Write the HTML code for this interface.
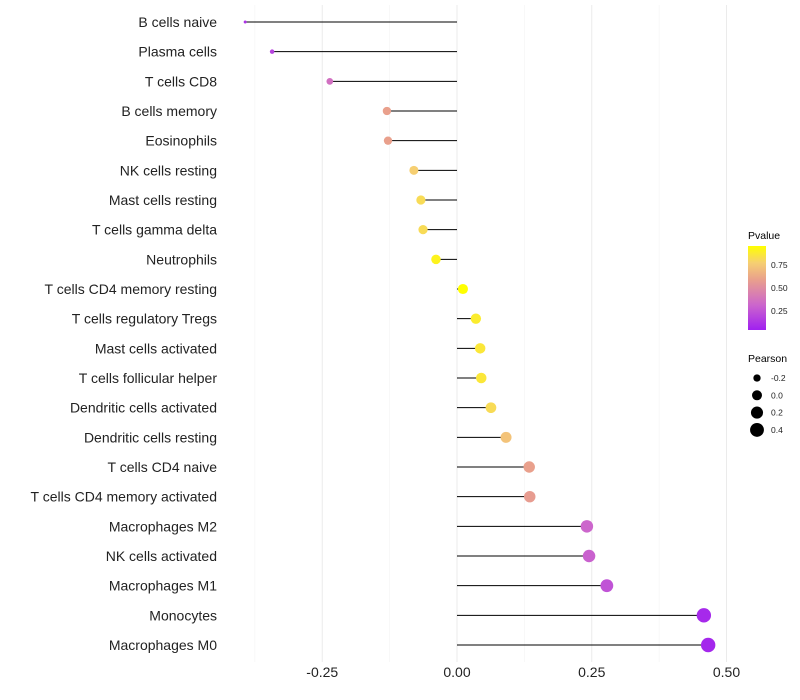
<!DOCTYPE html>
<html><head><meta charset="utf-8"><style>
body{margin:0;background:#fff}
svg{display:block;font-family:"Liberation Sans",sans-serif}
</style></head><body>
<svg id="c" width="800" height="700">
<defs><linearGradient id="pg" x1="0" y1="1" x2="0" y2="0">
<stop offset="0" stop-color="#a020f0"/><stop offset="0.3" stop-color="#cc66cc"/>
<stop offset="0.6" stop-color="#e9a08c"/><stop offset="0.8" stop-color="#f6cf72"/>
<stop offset="1" stop-color="#ffff00"/></linearGradient></defs>
<g id="grid"></g><g id="marks"></g><g id="labels"></g>
<g id="legend"></g>
</svg>
<script>
const categories=["B cells naive","Plasma cells","T cells CD8","B cells memory","Eosinophils","NK cells resting","Mast cells resting","T cells gamma delta","Neutrophils","T cells CD4 memory resting","T cells regulatory  Tregs ","Mast cells activated","T cells follicular helper","Dendritic cells activated","Dendritic cells resting","T cells CD4 naive","T cells CD4 memory activated","Macrophages M2","NK cells activated","Macrophages M1","Monocytes","Macrophages M0"];
const pearson=[-0.393,-0.343,-0.236,-0.130,-0.128,-0.080,-0.067,-0.063,-0.039,0.011,0.035,0.043,0.045,0.063,0.091,0.134,0.135,0.241,0.245,0.278,0.458,0.466];
const pvalue=[0.08,0.15,0.35,0.6,0.6,0.8,0.85,0.85,0.95,1.0,0.92,0.9,0.9,0.85,0.75,0.6,0.58,0.3,0.28,0.22,0.04,0.03];
const xTicks=[-0.25,0,0.25,0.5];
const xTickLabels=["-0.25","0.00","0.25","0.50"];
const sizeBreaks=[-0.2,0,0.2,0.4];
const pBreaks=[0.25,0.5,0.75];
const NS="http://www.w3.org/2000/svg";
const X=v=>457+v*539;
const Y=i=>22+i*(623/(categories.length-1));
const R=v=>Math.sqrt(Math.max(0.5,2.25+57.7*(v+0.393)));
const stops=[[0,[160,32,240]],[0.3,[204,102,204]],[0.6,[233,160,140]],[0.8,[246,207,114]],[1,[255,255,0]]];
function col(p){for(let i=1;i<stops.length;i++){if(p<=stops[i][0]){const a=stops[i-1],b=stops[i],t=(p-a[0])/(b[0]-a[0]);return "rgb("+a[1].map((c,k)=>Math.round(c+(b[1][k]-c)*t)).join(",")+")";}}return "rgb(255,255,0)";}
function el(t,a,p){const e=document.createElementNS(NS,t);for(const k in a)e.setAttribute(k,a[k]);p.appendChild(e);return e;}
const g=document.getElementById('grid'),m=document.getElementById('marks'),L=document.getElementById('labels'),lg=document.getElementById('legend');
[-0.375,-0.125,0.125,0.375].forEach(v=>{const l=el('line',{x1:X(v),x2:X(v),y1:5,y2:662,stroke:'#f3f3f3','stroke-width':0.6},g);

});
xTicks.forEach((v,i)=>{const l=el('line',{x1:X(v),x2:X(v),y1:5,y2:662,stroke:'#ebebeb','stroke-width':1},g);


const t=el('text',{x:X(v),y:677,'text-anchor':'middle','font-size':14,fill:'#222'},L);t.textContent=xTickLabels[i];

});
categories.forEach((c,i)=>{const y=Y(i);
const ln=el('line',{x1:X(0),x2:X(pearson[i]),y1:y,y2:y,stroke:'#000','stroke-width':1},m);


const d=el('circle',{cx:X(pearson[i]),cy:y,r:R(pearson[i]),fill:col(pvalue[i])},m);


const t=el('text',{x:217,y:y+5,'text-anchor':'end','font-size':14,fill:'#222'},L);t.textContent=c;

});
let t=el('text',{x:748,y:239,'font-size':10.5,fill:'#000'},lg);t.textContent="Pvalue";


const bar=el('rect',{x:748,y:246,width:18,height:84,fill:'url(#pg)'},lg);


const PY=p=>288-(p-0.5)*92;
pBreaks.forEach(p=>{const tt=el('text',{x:771,y:PY(p)+3,'font-size':8.5,fill:'#222'},lg);tt.textContent=p.toFixed(2);

});
t=el('text',{x:748,y:362,'font-size':10.5,fill:'#000'},lg);t.textContent="Pearson";


sizeBreaks.forEach((v,i)=>{const y=378+i*17.3;
const c=el('circle',{cx:757,cy:y,r:R(v),fill:'#000'},lg);


const tt=el('text',{x:771,y:y+3,'font-size':8.5,fill:'#222'},lg);tt.textContent=v.toFixed(1);

});
</script>
</body></html>
